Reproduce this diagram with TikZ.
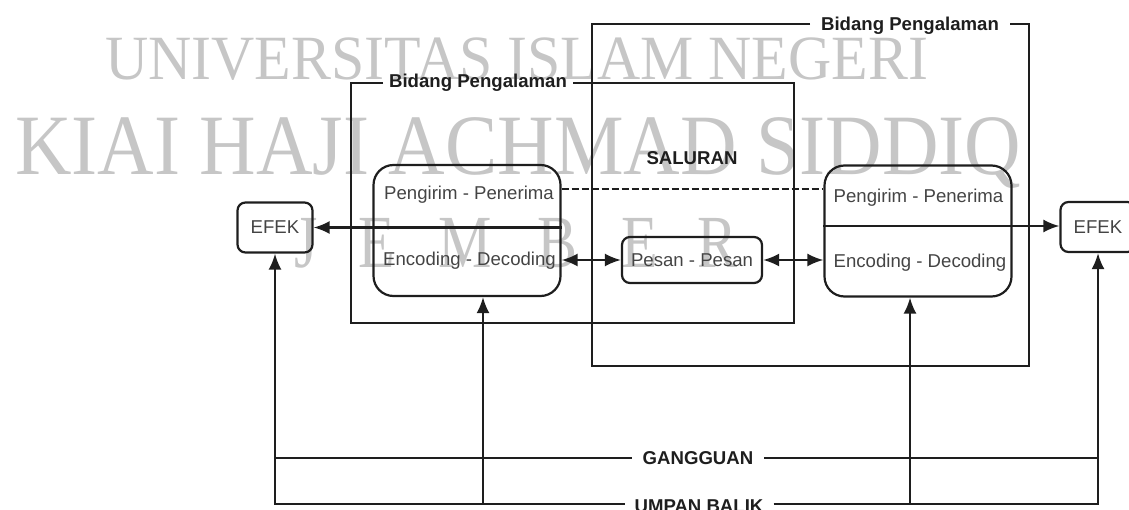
\documentclass[tikz,border=0pt]{standalone}
\usepackage{fontspec}
\setmainfont{Liberation Sans}
\newfontfamily\wmfont{Liberation Serif}
\usetikzlibrary{arrows.meta}
\definecolor{ink}{HTML}{1E1E1E}
\definecolor{txt}{HTML}{444444}
\definecolor{wm}{HTML}{C6C6C6}
\begin{document}
\begin{tikzpicture}[x=1pt,y=-1pt,
  line width=2.2pt, draw=ink,
  efekbox/.style={draw=ink, line width=2.2pt, rounded corners=8pt, minimum width=75pt, minimum height=50pt, inner sep=0pt, text=txt, font=\fontsize{18.6}{20}\selectfont},
  commbox/.style={draw=ink, line width=2.2pt, rounded corners=20pt, minimum width=187pt, minimum height=131pt, inner sep=0pt},
  pesanbox/.style={draw=ink, line width=2.2pt, rounded corners=8pt, minimum width=140pt, minimum height=46pt, inner sep=0pt, text=txt, font=\fontsize{18.6}{20}\selectfont},
  lbl/.style={text=txt, inner sep=0pt, anchor=base, font=\fontsize{18.6}{20}\selectfont},
  hdr/.style={text=ink, inner sep=0pt, font=\bfseries\fontsize{18.6}{20}\selectfont},
  wmtext/.style={text=wm, inner sep=0pt, anchor=base west},
  wmletter/.style={text=wm, inner sep=0pt, anchor=base, font=\wmfont\fontsize{75}{75}\selectfont},
  arr/.style={-{Latex[length=16pt,width=13pt]}},
  darr/.style={{Latex[length=16pt,width=13pt]}-{Latex[length=16pt,width=13pt]}},
  dash line/.style={dash pattern=on 7pt off 3pt, line width=2.2pt}
]
\useasboundingbox (0,0) rectangle (1129,510);
% watermark
\node[wmtext, font=\wmfont\fontsize{63}{63}\selectfont] (w1) at (104,80) {\scalebox{0.95}[1]{UNIVERSITAS ISLAM NEGERI}};
\node[wmtext, font=\wmfont\fontsize{86}{86}\selectfont] (w2) at (14,175) {\scalebox{0.91}[1]{KIAI HAJI ACHMAD SIDDIQ}};
\node[wmletter] (wJ) at (306,268) {\scalebox{0.8}[1]{J}};
\node[wmletter] (wE1) at (377,268) {\scalebox{0.8}[1]{E}};
\node[wmletter] (wM) at (465,268) {\scalebox{0.8}[1]{M}};
\node[wmletter] (wB) at (558,268) {\scalebox{0.8}[1]{B}};
\node[wmletter] (wE2) at (640,268) {\scalebox{0.8}[1]{E}};
\node[wmletter] (wR) at (718,268) {\scalebox{0.8}[1]{R}};

% fields of experience
\node[hdr, inner xsep=5pt] (bpL) at (478,83) {Bidang Pengalaman};
\draw (bpL.west) -| (351,323) -| (794,83) -- (bpL.east);
\node[hdr, inner xsep=10pt] (bpR) at (910,26) {Bidang Pengalaman};
\draw ([yshift=2pt]bpR.west) -| (592,366) -| (1029,24) -- ([yshift=2pt]bpR.east);
\node[hdr] (sal) at (692,158) {SALURAN};

% boxes
\node[efekbox] (efekL) at (275,227.5) {EFEK};
\node[efekbox] (efekR) at (1098,227) {EFEK};
\node[commbox] (sender) at (467,230.5) {};
\node[commbox] (receiver) at (918,231) {};
\node[pesanbox] (pesan) at (692,260) {Pesan - Pesan};

\node[lbl] (pgL) at (469,200) {Pengirim - Penerima};
\node[lbl] (edL) at (469.5,266) {Encoding - Decoding};
\node[lbl] (pgR) at (918.5,203) {Pengirim - Penerima};
\node[lbl] (edR) at (920,268) {Encoding - Decoding};

% connectors
\draw[arr] (sender.east |- efekL) -- (efekL);
\draw[arr] ([yshift=5pt]receiver.west) -- ([yshift=5pt]receiver.west -| efekR.west);
\draw[dash line] ([yshift=41.5pt]sender.east) -- ([yshift=41.5pt]sender.east -| receiver.west);
\draw[darr] (sender.east |- pesan) -- (pesan);
\draw[darr] (pesan) -- (pesan -| receiver.west);

% noise and feedback
\node[hdr, inner xsep=10pt] (gang) at (698,458) {GANGGUAN};
\node[hdr, inner xsep=9pt] (umpan) at (699,506) {UMPAN BALIK};
\draw (gang.west) -- (gang.west -| efekL.south);
\draw (gang.east) -- (gang.east -| efekR.south);
\draw[arr] ([yshift=2pt]umpan.west) -| (efekL.south);
\draw[arr] ([yshift=2pt]umpan.east) -| (efekR.south);
\coordinate (fbL) at (483,504);
\coordinate (fbR) at (910,504);
\draw[arr] (fbL) -- (fbL |- sender.south);
\draw[arr] (fbR) -- (fbR |- receiver.south);
\end{tikzpicture}
\end{document}
